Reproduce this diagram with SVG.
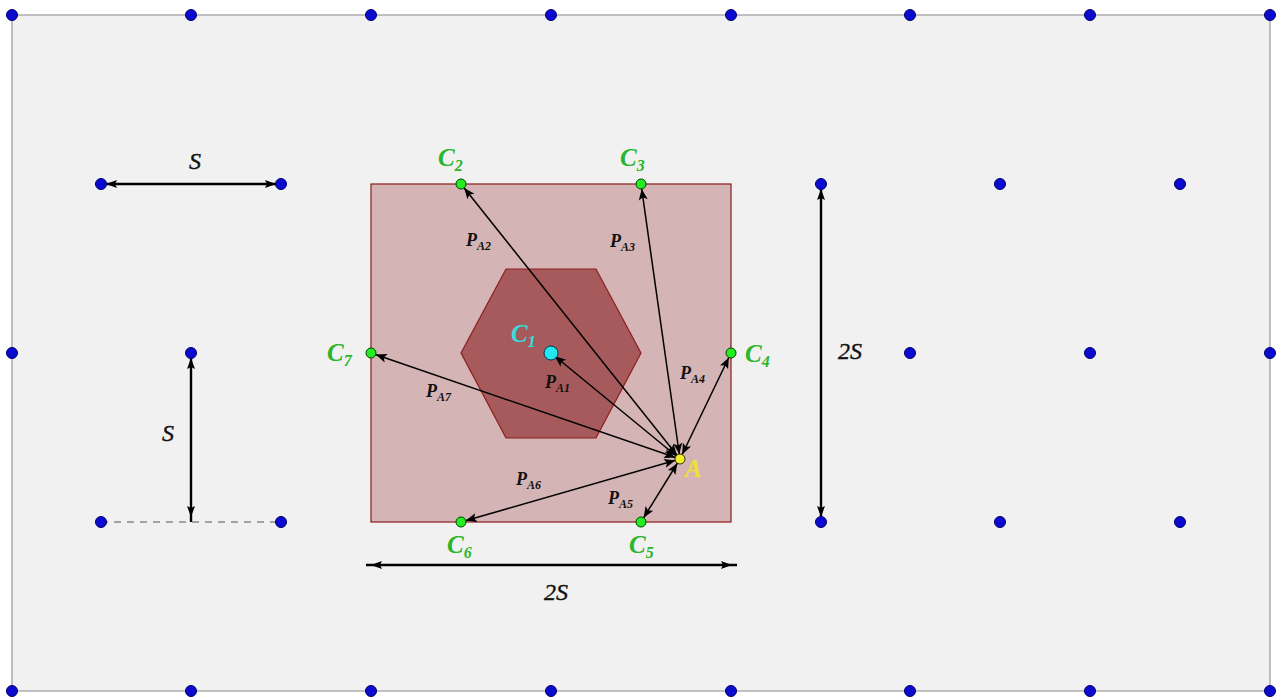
<svg xmlns="http://www.w3.org/2000/svg" width="1278" height="697" viewBox="0 0 1278 697">
<defs>
<marker id="ah" viewBox="0 0 18 12" refX="17" refY="6" markerWidth="18" markerHeight="12" markerUnits="userSpaceOnUse" orient="auto-start-reverse">
<path d="M1,1.5 L12,6 L1,10.5 L3.5,6 z" fill="#000"/>
</marker>
<marker id="ahd" viewBox="0 0 20 12" refX="18" refY="6" markerWidth="20" markerHeight="12" markerUnits="userSpaceOnUse" orient="auto-start-reverse">
<path d="M2,2 L13,6 L2,10 L4,6 z" fill="#000"/>
</marker>
<style>
.bg{fill:#f1f1f1;stroke:#9a9a9a;stroke-width:1.2}
.grid{fill:#0a0ad0;stroke:#00006a;stroke-width:1}
.cpt{fill:#22ee22;stroke:#004400;stroke-width:1}
.vec{stroke:#000;stroke-width:1.5;fill:none;marker-start:url(#ah);marker-end:url(#ah)}
.dim{stroke:#000;stroke-width:2.4;fill:none;marker-start:url(#ahd);marker-end:url(#ahd)}
.math{font-family:"Liberation Serif",serif;font-style:italic;fill:#111;stroke:#111;stroke-width:0.4}
.cl{font-family:"Liberation Serif",serif;font-style:italic;font-weight:bold;fill:#2ab52a;font-size:25px}
.pl{font-family:"Liberation Serif",serif;font-style:italic;font-weight:bold;fill:#111;font-size:18px}
.sub{font-size:12px}
.csub{font-size:16px}
</style>
</defs>
<rect x="0" y="0" width="1278" height="697" fill="#ffffff"/>
<rect class="bg" x="12" y="15" width="1258" height="676"/>

<g id="region">
<rect x="371" y="184" width="360" height="338" fill="#d5b4b6" stroke="#8c1c1c" stroke-width="1.2"/>
<polygon points="461,353 506,269 596,269 641,353 596,438 506,438" fill="#a65a5b" stroke="#8c1c1c" stroke-width="1.2"/>
</g>

<g id="connectors">
<line class="vec" x1="680" y1="459" x2="551" y2="353"/>
<line class="vec" x1="680" y1="459" x2="461" y2="184"/>
<line class="vec" x1="680" y1="459" x2="641" y2="184"/>
<line class="vec" x1="680" y1="459" x2="731" y2="353"/>
<line class="vec" x1="680" y1="459" x2="641" y2="522"/>
<line class="vec" x1="680" y1="459" x2="461" y2="522"/>
<line class="vec" x1="680" y1="459" x2="371" y2="353"/>
<line class="dim" x1="101" y1="184" x2="281" y2="184"/>
<line class="dim" x1="191" y1="353" x2="191" y2="522"/>
<line x1="101" y1="522" x2="281" y2="522" stroke="#888" stroke-width="1.3" stroke-dasharray="7,6"/>
<line class="dim" x1="821" y1="184" x2="821" y2="522"/>
<line class="dim" x1="366" y1="565" x2="737" y2="565"/>
</g>

<g id="grid-points">
<circle class="grid" cx="12" cy="15" r="5.5"/>
<circle class="grid" cx="191" cy="15" r="5.5"/>
<circle class="grid" cx="371" cy="15" r="5.5"/>
<circle class="grid" cx="551" cy="15" r="5.5"/>
<circle class="grid" cx="731" cy="15" r="5.5"/>
<circle class="grid" cx="910" cy="15" r="5.5"/>
<circle class="grid" cx="1090" cy="15" r="5.5"/>
<circle class="grid" cx="1270" cy="15" r="5.5"/>
<circle class="grid" cx="12" cy="691" r="5.5"/>
<circle class="grid" cx="191" cy="691" r="5.5"/>
<circle class="grid" cx="371" cy="691" r="5.5"/>
<circle class="grid" cx="551" cy="691" r="5.5"/>
<circle class="grid" cx="731" cy="691" r="5.5"/>
<circle class="grid" cx="910" cy="691" r="5.5"/>
<circle class="grid" cx="1090" cy="691" r="5.5"/>
<circle class="grid" cx="1270" cy="691" r="5.5"/>
<circle class="grid" cx="101" cy="184" r="5.5"/>
<circle class="grid" cx="281" cy="184" r="5.5"/>
<circle class="grid" cx="821" cy="184" r="5.5"/>
<circle class="grid" cx="1000" cy="184" r="5.5"/>
<circle class="grid" cx="1180" cy="184" r="5.5"/>
<circle class="grid" cx="12" cy="353" r="5.5"/>
<circle class="grid" cx="191" cy="353" r="5.5"/>
<circle class="grid" cx="910" cy="353" r="5.5"/>
<circle class="grid" cx="1090" cy="353" r="5.5"/>
<circle class="grid" cx="1270" cy="353" r="5.5"/>
<circle class="grid" cx="101" cy="522" r="5.5"/>
<circle class="grid" cx="281" cy="522" r="5.5"/>
<circle class="grid" cx="821" cy="522" r="5.5"/>
<circle class="grid" cx="1000" cy="522" r="5.5"/>
<circle class="grid" cx="1180" cy="522" r="5.5"/>
</g>

<g id="C1">
<circle cx="551" cy="353" r="7" fill="#22e6f0" stroke="#003344" stroke-width="1"/>
<text x="511" y="342" class="cl" style="fill:#33dede">C<tspan class="csub" dy="5">1</tspan></text>
</g>
<g id="C2">
<circle class="cpt" cx="461" cy="184" r="5"/>
<text x="438" y="166" class="cl">C<tspan class="csub" dy="5">2</tspan></text>
</g>
<g id="C3">
<circle class="cpt" cx="641" cy="184" r="5"/>
<text x="620" y="166" class="cl">C<tspan class="csub" dy="5">3</tspan></text>
</g>
<g id="C4">
<circle class="cpt" cx="731" cy="353" r="5"/>
<text x="745" y="362" class="cl">C<tspan class="csub" dy="5">4</tspan></text>
</g>
<g id="C5">
<circle class="cpt" cx="641" cy="522" r="5"/>
<text x="629" y="553" class="cl">C<tspan class="csub" dy="5">5</tspan></text>
</g>
<g id="C6">
<circle class="cpt" cx="461" cy="522" r="5"/>
<text x="447" y="553" class="cl">C<tspan class="csub" dy="5">6</tspan></text>
</g>
<g id="C7">
<circle class="cpt" cx="371" cy="353" r="5"/>
<text x="327" y="361" class="cl">C<tspan class="csub" dy="5">7</tspan></text>
</g>
<g id="A">
<circle cx="680" cy="459" r="5" fill="#f5ee2a" stroke="#333300" stroke-width="1"/>
<text x="685" y="477" class="cl" style="fill:#f0e030">A</text>
</g>

<g id="labels">
<text x="466" y="246" class="pl">P<tspan class="sub" dy="4">A2</tspan></text>
<text x="610" y="247" class="pl">P<tspan class="sub" dy="4">A3</tspan></text>
<text x="545" y="388" class="pl">P<tspan class="sub" dy="4">A1</tspan></text>
<text x="680" y="379" class="pl">P<tspan class="sub" dy="4">A4</tspan></text>
<text x="426" y="397" class="pl">P<tspan class="sub" dy="4">A7</tspan></text>
<text x="516" y="485" class="pl">P<tspan class="sub" dy="4">A6</tspan></text>
<text x="608" y="504" class="pl">P<tspan class="sub" dy="4">A5</tspan></text>
<text x="189" y="169" class="math" font-size="24">S</text>
<text x="162" y="441" class="math" font-size="24">S</text>
<text x="838" y="359" class="math" font-size="24">2S</text>
<text x="544" y="600" class="math" font-size="24">2S</text>
</g>
</svg>
